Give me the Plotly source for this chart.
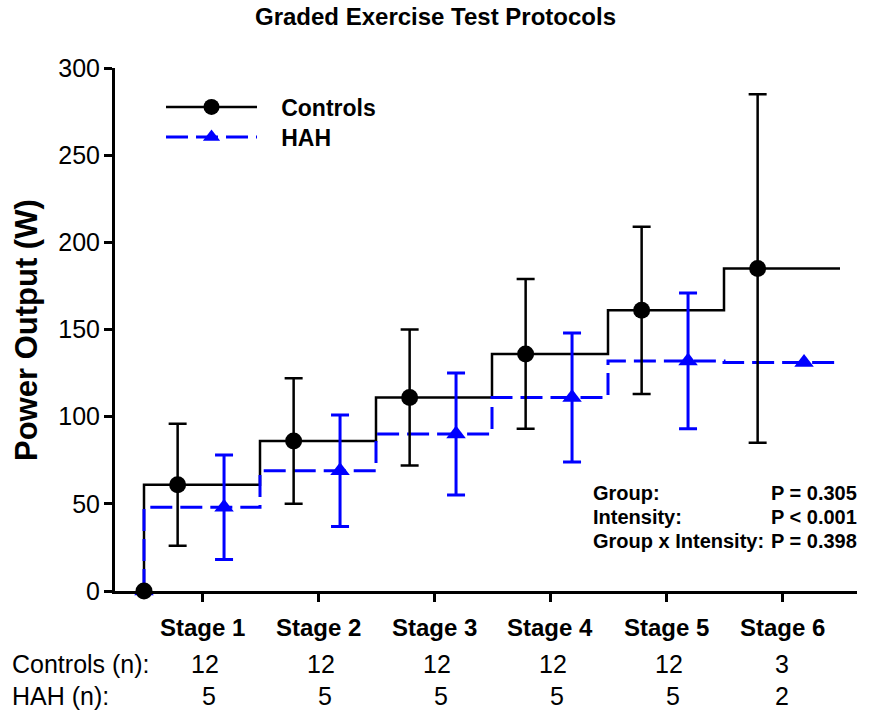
import plotly.graph_objects as go

# ---------------- data ----------------
stages = ["Stage 1", "Stage 2", "Stage 3", "Stage 4", "Stage 5", "Stage 6"]
controls_mean = [61, 86, 111, 136, 161, 185]
controls_sd = [35, 36, 39, 43, 48, 100]
hah_mean = [48, 69, 90, 111, 132, 131]
hah_sd = [30, 32, 35, 37, 39]          # stage 6: no error bar shown
controls_n = [12, 12, 12, 12, 12, 3]
hah_n = [5, 5, 5, 5, 5, 2]
y_ticks = [0, 50, 100, 150, 200, 250, 300]
stats_labels = ["Group:", "Intensity:", "Group x Intensity:"]
stats_values = ["P = 0.305", "P < 0.001", "P = 0.398"]

# ---------------- geometry helpers ----------------
W, H = 870, 719
L, R, T, B = 115, 13, 68, 128
PW, PH = W - L - R, H - T - B
FONT = "Liberation Sans, Arial, sans-serif"
BLUE = "#0000FF"

def xp(px):
    return (px - L) / PW

def yp(py):
    return (H - B - py) / PH

n_st = len(stages)
step_x = list(range(n_st + 1))             # stage boundaries
ctrl_x = [k + 0.29 for k in range(n_st)]   # controls points inside each stage
hah_x = [k + 0.69 for k in range(n_st)]    # HAH points inside each stage
tick_x = [k + 0.5 for k in range(n_st)]

fig = go.Figure()

# step lines
fig.add_trace(go.Scatter(x=step_x, y=[0] + controls_mean, mode="lines",
                         line=dict(color="black", width=2.5, shape="vh"),
                         showlegend=False, hoverinfo="skip"))
fig.add_trace(go.Scatter(x=step_x, y=[0] + hah_mean, mode="lines",
                         line=dict(color=BLUE, width=3, shape="vh", dash="22px,8px"),
                         showlegend=False, hoverinfo="skip"))

# HAH points with SD
nh = len(hah_sd)
fig.add_trace(go.Scatter(x=hah_x[:nh], y=hah_mean[:nh], mode="markers",
                         marker=dict(symbol="triangle-up", size=17, color=BLUE),
                         error_y=dict(type="data", array=hah_sd, color=BLUE,
                                      thickness=3, width=9),
                         cliponaxis=False, showlegend=False))
# HAH points without SD (origin + stage 6)
fig.add_trace(go.Scatter(x=[0] + hah_x[nh:], y=[0] + hah_mean[nh:], mode="markers",
                         marker=dict(symbol="triangle-up", size=17, color=BLUE),
                         cliponaxis=False, showlegend=False))

# Controls points with SD
fig.add_trace(go.Scatter(x=ctrl_x, y=controls_mean, mode="markers",
                         marker=dict(symbol="circle", size=17, color="black"),
                         error_y=dict(type="data", array=controls_sd, color="black",
                                      thickness=2.5, width=9),
                         cliponaxis=False, showlegend=False))
# Controls origin
fig.add_trace(go.Scatter(x=[0], y=[0], mode="markers",
                         marker=dict(symbol="circle", size=17, color="black"),
                         cliponaxis=False, showlegend=False))

# legend entries (each in its own legend box for exact placement)
NB = "&nbsp;" * 3
fig.add_trace(go.Scatter(x=[None], y=[None], mode="lines+markers", name=NB + "<b>Controls</b>",
                         line=dict(color="black", width=2.5),
                         marker=dict(symbol="circle", size=16, color="black"),
                         legend="legend"))
fig.add_trace(go.Scatter(x=[None], y=[None], mode="lines+markers", name=NB + "<b>HAH</b>",
                         line=dict(color=BLUE, width=3, dash="22px,8px"),
                         marker=dict(symbol="triangle-up", size=15, color=BLUE),
                         legend="legend2"))

annotations = []
# title
annotations.append(dict(text="<b>Graded Exercise Test Protocols</b>", xref="paper", yref="paper",
                        x=xp(435), y=yp(17), xanchor="center", yanchor="middle",
                        showarrow=False, font=dict(family=FONT, size=24, color="black")))
# y axis title
annotations.append(dict(text="<b>Power Output (W)</b>", xref="paper", yref="paper",
                        x=xp(26), y=yp(330), xanchor="center", yanchor="middle",
                        textangle=-90, showarrow=False,
                        font=dict(family=FONT, size=31, color="black")))
# stage labels
for tx, s in zip(tick_x, stages):
    annotations.append(dict(text="<b>%s</b>" % s, xref="x", yref="paper", x=tx, y=yp(627),
                            xanchor="center", yanchor="middle", showarrow=False,
                            font=dict(family=FONT, size=24, color="black")))
# n table
annotations.append(dict(text="Controls (n):", xref="paper", yref="paper", x=xp(10), y=yp(664),
                        xanchor="left", yanchor="middle", showarrow=False,
                        font=dict(family=FONT, size=25, color="black")))
annotations.append(dict(text="HAH (n):", xref="paper", yref="paper", x=xp(10), y=yp(696),
                        xanchor="left", yanchor="middle", showarrow=False,
                        font=dict(family=FONT, size=25, color="black")))
for k, (tx, cn, hn) in enumerate(zip(tick_x, controls_n, hah_n)):
    last = k == n_st - 1
    annotations.append(dict(text=str(cn), xref="x", yref="paper", x=tx, y=yp(664),
                            xshift=0 if last else 3,
                            xanchor="center", yanchor="middle", showarrow=False,
                            font=dict(family=FONT, size=25, color="black")))
    annotations.append(dict(text=str(hn), xref="x", yref="paper", x=tx, y=yp(696),
                            xshift=0 if last else 7,
                            xanchor="center", yanchor="middle", showarrow=False,
                            font=dict(family=FONT, size=25, color="black")))
# statistics
for i, (lab, val) in enumerate(zip(stats_labels, stats_values)):
    yy = 493 + i * 24
    annotations.append(dict(text="<b>%s</b>" % lab, xref="paper", yref="paper", x=xp(591), y=yp(yy),
                            xanchor="left", yanchor="middle", showarrow=False,
                            font=dict(family=FONT, size=20, color="black")))
    annotations.append(dict(text="<b>%s</b>" % val, xref="paper", yref="paper", x=xp(769), y=yp(yy),
                            xanchor="left", yanchor="middle", showarrow=False,
                            font=dict(family=FONT, size=20, color="black")))

legend_common = dict(xanchor="left", yanchor="middle", bgcolor="rgba(0,0,0,0)",
                     itemwidth=91, font=dict(family=FONT, size=23, color="black"),
                     itemclick=False, itemdoubleclick=False)

fig.update_layout(
    width=W, height=H,
    margin=dict(l=L, r=R, t=T, b=B, pad=0),
    paper_bgcolor="white", plot_bgcolor="white",
    font=dict(family=FONT, color="black"),
    showlegend=True,
    legend=dict(x=xp(161), y=yp(107), **legend_common),
    legend2=dict(x=xp(161), y=yp(137), **legend_common),
    annotations=annotations,
    xaxis=dict(range=[-0.25, -0.25 + PW / 116.0], showgrid=False, zeroline=False,
               showline=True, linecolor="black", linewidth=3,
               ticks="outside", ticklen=8, tickwidth=3, tickcolor="black",
               tickvals=tick_x, showticklabels=False),
    yaxis=dict(range=[0, 300], showgrid=False, zeroline=False,
               showline=True, linecolor="black", linewidth=3,
               ticks="outside", ticklen=8, tickwidth=3, tickcolor="black",
               tickvals=y_ticks, ticklabelstandoff=-1,
               tickfont=dict(family=FONT, size=25, color="black")),
)

fig.write_html("out.html", config={"displayModeBar": False},
               post_script="document.body.style.margin='0px';")
